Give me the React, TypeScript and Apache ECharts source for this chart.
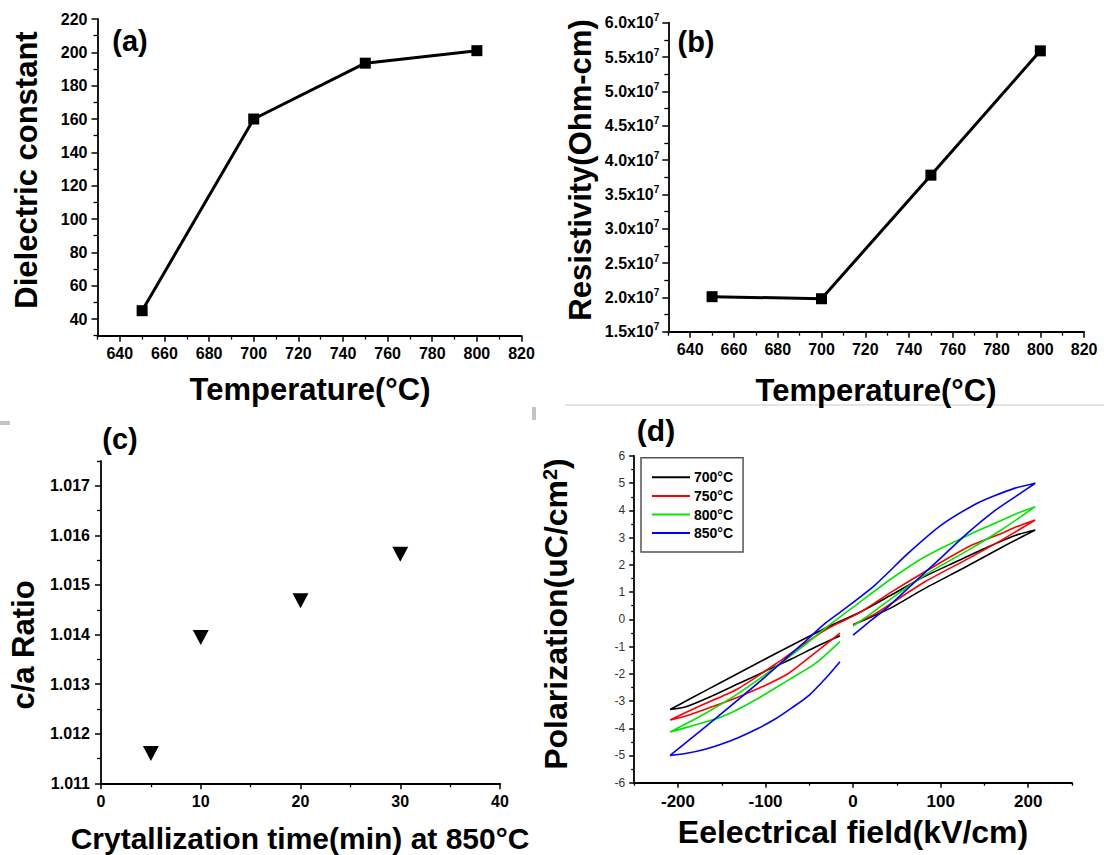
import React, { useEffect, useRef } from 'react';
import * as echarts from 'echarts';

const FONT = '"Liberation Sans", Arial, Helvetica, sans-serif';

// ---------- Panel (a): dielectric constant vs temperature ----------
const tempA = [650, 700, 750, 800];
const dielectric = [45, 160, 193.5, 201];
const tempTicks = [640, 660, 680, 700, 720, 740, 760, 780, 800, 820];
const tempMinor = [630, 650, 670, 690, 710, 730, 750, 770, 790, 810];
const dielTicks = [40, 60, 80, 100, 120, 140, 160, 180, 200, 220];
const dielMinor = [30, 50, 70, 90, 110, 130, 150, 170, 190, 210];

// ---------- Panel (b): resistivity vs temperature ----------
const tempB = [650, 700, 750, 800];
const resistivity = [2.01e7, 1.98e7, 3.78e7, 5.59e7];
const resTicks = [1.5e7, 2.0e7, 2.5e7, 3.0e7, 3.5e7, 4.0e7, 4.5e7, 5.0e7, 5.5e7, 6.0e7];
const resMinor = [1.75e7, 2.25e7, 2.75e7, 3.25e7, 3.75e7, 4.25e7, 4.75e7, 5.25e7, 5.75e7];

// ---------- Panel (c): c/a ratio vs crystallization time ----------
const crystTime = [5, 10, 20, 30];
const caRatio = [1.0116, 1.01394, 1.01468, 1.01562];
const timeTicks = [0, 10, 20, 30, 40];
const timeMinor = [5, 15, 25, 35];
const ratioTicks = [1.011, 1.012, 1.013, 1.014, 1.015, 1.016, 1.017];
const ratioMinor = [1.0115, 1.0125, 1.0135, 1.0145, 1.0155, 1.0165, 1.0175];

// ---------- Panel (d): P-E hysteresis loops [E (kV/cm), P (uC/cm2)] ----------
const loop700 = [
  [0, -0.2], [25, 0.15], [45, 0.45], [80, 1.1], [130, 1.95], [170, 2.65], [208, 3.28],
  [185, 3.08], [150, 2.6], [120, 2.15], [80, 1.55], [45, 0.92], [10, 0.3], [-30, -0.3],
  [-70, -0.95], [-110, -1.62], [-150, -2.3], [-185, -2.9], [-209, -3.31],
  [-190, -3.2], [-160, -2.8], [-130, -2.35], [-100, -1.9], [-70, -1.45], [-40, -0.97], [-15, -0.6],
];
const loop750 = [
  [0, -0.2], [25, 0.2], [44, 0.59], [82, 1.38], [132, 2.24], [170, 2.92], [208, 3.65],
  [185, 3.38], [170, 3.16], [132, 2.67], [82, 1.75], [44, 1.01], [6, 0.22], [-32, -0.39],
  [-80, -1.45], [-131, -2.54], [-177, -3.21], [-209, -3.7],
  [-188, -3.52], [-160, -3.2], [-131, -2.85], [-100, -2.42], [-74, -1.99], [-45, -1.27], [-15, -0.51],
];
const loop800 = [
  [0, -0.25], [20, 0.2], [44, 0.77], [82, 1.63], [132, 2.55], [170, 3.3], [208, 4.14],
  [185, 3.86], [160, 3.5], [132, 3.1], [82, 2.3], [44, 1.5], [6, 0.59], [-32, -0.33],
  [-55, -0.94], [-93, -1.86], [-131, -2.72], [-169, -3.46], [-209, -4.14],
  [-188, -3.95], [-150, -3.58], [-112, -2.97], [-74, -2.23], [-43, -1.62], [-15, -0.82],
];
const loop850 = [
  [0, -0.58], [20, -0.05], [40, 0.46], [70, 1.36], [100, 2.25], [130, 3.15], [160, 3.95], [185, 4.5], [208, 5.0],
  [185, 4.82], [160, 4.52], [139, 4.22], [101, 3.47], [63, 2.43], [25, 1.26], [-9, 0.4], [-32, -0.15],
  [-53, -0.76], [-100, -2.1], [-148, -3.4], [-186, -4.4], [-209, -5.0],
  [-190, -4.92], [-170, -4.78], [-150, -4.58], [-130, -4.33], [-110, -4.03], [-90, -3.68], [-70, -3.25],
  [-50, -2.78], [-30, -2.12], [-15, -1.56],
];
const loopNames = ['700°C', '750°C', '800°C', '850°C'];
const loopColors = ['#000000', '#ff0000', '#00e600', '#0000ff'];
const fieldTicks = [-200, -100, 0, 100, 200];
const fieldMinor = [-250, -150, -50, 50, 150, 250];
const polTicks = [-6, -5, -4, -3, -2, -1, 0, 1, 2, 3, 4, 5, 6];
const polMinor = [-5.5, -4.5, -3.5, -2.5, -1.5, -0.5, 0.5, 1.5, 2.5, 3.5, 4.5, 5.5];

// ---------- layout ----------
const rects = [
  { left: 97.5, top: 19, width: 424, height: 316.7 },
  { left: 668.3, top: 22.7, width: 415.8, height: 309 },
  { left: 101, top: 461, width: 399, height: 322.3 },
  { left: 634.2, top: 456, width: 437.8, height: 326.7 },
];

function mainAxis(gridIndex: number, min: number, max: number, ticks: number[], tickLen: number, label: any) {
  return {
    type: 'value',
    gridIndex,
    min,
    max,
    axisLine: { show: true, onZero: false, lineStyle: { color: '#000', width: 1.8 } },
    axisTick: { show: true, customValues: ticks, length: tickLen, lineStyle: { color: '#000', width: 1.5 } },
    axisLabel: Object.assign({ show: true, customValues: ticks, fontFamily: FONT }, label),
    splitLine: { show: false },
  };
}
function minorAxis(gridIndex: number, min: number, max: number, ticks: number[], tickLen: number) {
  return {
    type: 'value',
    gridIndex,
    min,
    max,
    axisLine: { show: false, onZero: false },
    axisTick: { show: true, customValues: ticks, length: tickLen, lineStyle: { color: '#000', width: 1.3 } },
    axisLabel: { show: false },
    splitLine: { show: false },
  };
}

const boldLabel = { fontSize: 16, fontWeight: 'bold', color: '#000', margin: 10 };

function titleText(text: string, x: number, y: number, size: number, rotate: boolean, rich?: any) {
  const el: any = {
    type: 'text',
    x,
    y,
    rotation: rotate ? Math.PI / 2 : 0,
    silent: true,
    style: {
      text,
      font: `bold ${size}px ${FONT}`,
      fill: '#000',
      textAlign: 'center',
      textVerticalAlign: 'middle',
    },
  };
  if (rich) el.style.rich = rich;
  return el;
}

export default function App() {
  const ref = useRef<HTMLDivElement>(null);
  useEffect(() => {
    const chart = echarts.init(ref.current!, null, { renderer: 'svg' });
    const grids = [...rects, ...rects].map((r) => ({ ...r, containLabel: false, outerBoundsMode: 'none' }));
    const option: any = {
      animation: false,
      backgroundColor: '#ffffff',
      grid: grids,
      xAxis: [
        mainAxis(0, 630, 820, tempTicks, 6, boldLabel),
        mainAxis(1, 630, 820, tempTicks, 6, boldLabel),
        mainAxis(2, 0, 40, timeTicks, 6, boldLabel),
        mainAxis(3, -250, 250, fieldTicks, 5, { fontSize: 17, fontWeight: 'bold', color: '#000', margin: 10 }),
        minorAxis(4, 630, 820, tempMinor, 4),
        minorAxis(5, 630, 820, tempMinor, 4),
        minorAxis(6, 0, 40, timeMinor, 4),
        minorAxis(7, -250, 250, fieldMinor, 3),
      ],
      yAxis: [
        mainAxis(0, 30, 220, dielTicks, 6, boldLabel),
        mainAxis(1, 1.5e7, 6.0e7, resTicks, 6, {
          margin: 9,
          formatter: (v: number) => `{a|${(v / 1e7).toFixed(1)}x10}{b|7}`,
          rich: {
            a: { fontSize: 16, fontWeight: 'bold', color: '#000', fontFamily: FONT, lineHeight: 20 },
            b: { fontSize: 10, fontWeight: 'bold', color: '#000', fontFamily: FONT, lineHeight: 12, verticalAlign: 'top' },
          },
        }),
        mainAxis(2, 1.011, 1.0175, ratioTicks, 6, {
          fontSize: 16,
          fontWeight: 'bold',
          color: '#000',
          margin: 11,
          formatter: (v: number) => v.toFixed(3),
        }),
        mainAxis(3, -6, 6, polTicks, 5, { fontSize: 12, color: '#333', margin: 9 }),
        minorAxis(4, 30, 220, dielMinor, 4),
        minorAxis(5, 1.5e7, 6.0e7, resMinor, 4),
        minorAxis(6, 1.011, 1.0175, ratioMinor, 4),
        minorAxis(7, -6, 6, polMinor, 3),
      ],
      legend: {
        show: true,
        orient: 'vertical',
        left: 641,
        top: 457.7,
        data: loopNames,
        icon: 'rect',
        itemWidth: 38,
        itemHeight: 2,
        itemGap: 4.6,
        padding: [12.6, 10, 12, 11],
        borderColor: '#555',
        borderWidth: 1.5,
        backgroundColor: '#fff',
        textStyle: { fontSize: 14, fontWeight: 'bold', color: '#000', fontFamily: FONT, lineHeight: 14, padding: [0, 0, 0, -1] },
      },
      series: [
        {
          type: 'line',
          xAxisIndex: 0,
          yAxisIndex: 0,
          data: tempA.map((t, i) => [t, dielectric[i]]),
          symbol: 'rect',
          symbolSize: 11,
          itemStyle: { color: '#000' },
          lineStyle: { color: '#000', width: 3 },
        },
        {
          type: 'line',
          xAxisIndex: 1,
          yAxisIndex: 1,
          data: tempB.map((t, i) => [t, resistivity[i]]),
          symbol: 'rect',
          symbolSize: 11,
          itemStyle: { color: '#000' },
          lineStyle: { color: '#000', width: 3 },
        },
        {
          type: 'scatter',
          xAxisIndex: 2,
          yAxisIndex: 2,
          data: crystTime.map((t, i) => [t, caRatio[i]]),
          symbol: 'triangle',
          symbolRotate: 180,
          symbolSize: [16, 15],
          itemStyle: { color: '#000', opacity: 1 },
        },
        ...[loop700, loop750, loop800, loop850].map((loop, i) => ({
          type: 'line',
          name: loopNames[i],
          xAxisIndex: 3,
          yAxisIndex: 3,
          data: loop,
          symbol: 'none',
          smooth: 0.25,
          itemStyle: { color: loopColors[i] },
          lineStyle: { color: loopColors[i], width: 1.6 },
        })),
      ],
      graphic: [
        // faint scan artifacts
        { type: 'rect', silent: true, shape: { x: 565, y: 404, width: 539, height: 2 }, style: { fill: '#e8e5de' } },
        { type: 'rect', silent: true, shape: { x: 532, y: 407, width: 4, height: 13 }, style: { fill: '#c4c4c4' } },
        { type: 'rect', silent: true, shape: { x: 0, y: 421, width: 10, height: 4 }, style: { fill: '#c4c4c4' } },
        // panel letters
        titleText('(a)', 130, 41, 29, false),
        titleText('(b)', 696, 42, 29, false),
        titleText('(c)', 120, 439, 29, false),
        titleText('(d)', 656, 430, 30, false),
        // axis titles
        titleText('Dielectric constant', 26, 170, 31, true),
        titleText('Temperature(°C)', 310, 389, 31, false),
        titleText('Resistivity(Ohm-cm)', 580.5, 170, 31, true),
        titleText('Temperature(°C)', 876, 390, 31, false),
        titleText('c/a Ratio', 23, 645, 31, true),
        titleText('Crytallization time(min) at 850°C', 300, 838, 30, false),
        titleText('Polarization(uC/cm{s|2})', 556, 614, 32, true, {
          s: { font: `bold 20px ${FONT}`, fill: '#000', verticalAlign: 'top', lineHeight: 20 },
        }),
        titleText('Eelectrical field(kV/cm)', 853, 832, 32, false),
      ],
    };
    chart.setOption(option);
    return () => chart.dispose();
  }, []);
  return (
    <div
      ref={ref}
      style={{ position: 'absolute', left: 0, top: 0, width: 1104, height: 855, background: '#fff' }}
    />
  );
}
